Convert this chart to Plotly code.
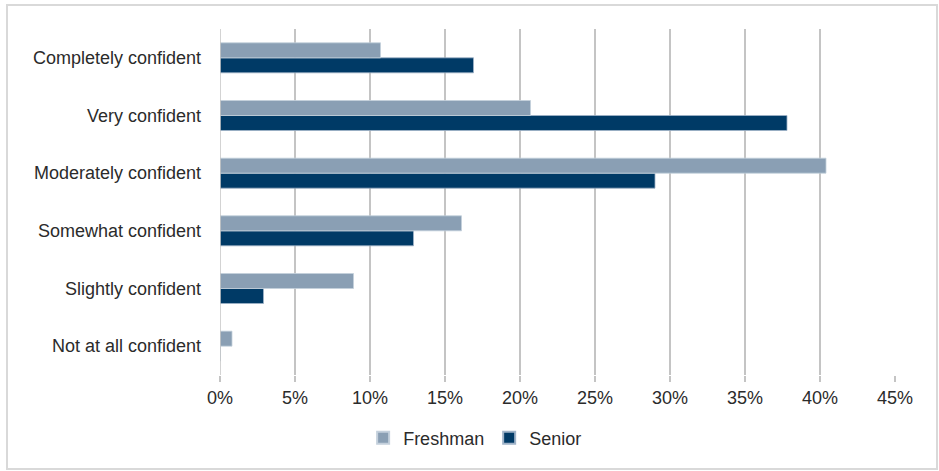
import plotly.graph_objects as go

# Survey response categories (top to bottom) and shares in percent
categories = [
    "Completely confident",
    "Very confident",
    "Moderately confident",
    "Somewhat confident",
    "Slightly confident",
    "Not at all confident",
]
freshman = [10.7, 20.7, 40.4, 16.1, 8.9, 0.8]
senior = [16.9, 37.8, 29.0, 12.9, 2.9, 0.0]
x_ticks = [0, 5, 10, 15, 20, 25, 30, 35, 40, 45]
x_tick_labels = [f"{v}%" for v in x_ticks]

FRESH_COLOR = "#8a9fb4"
SENIOR_COLOR = "#003a66"
TEXT_COLOR = "#2b2b2b"
FONT = "Liberation Sans, Arial, sans-serif"
FONT_SIZE = 18

fig = go.Figure()
# Horizontal grouped bars stack upward from the first trace, so Senior is
# added first to sit below Freshman in every group; legendrank keeps the
# legend in Freshman, Senior order.
fig.add_trace(go.Bar(
    name="Senior", y=categories, x=senior, orientation="h", legendrank=2,
    marker=dict(color=SENIOR_COLOR, line=dict(color="#9fb3c8", width=0.8)),
))
fig.add_trace(go.Bar(
    name="Freshman", y=categories, x=freshman, orientation="h", legendrank=1,
    marker=dict(color=FRESH_COLOR, line=dict(color="#c4d0dc", width=0.8)),
))

fig.update_layout(
    width=939, height=471,
    margin=dict(l=220, r=44, t=29, b=96),
    paper_bgcolor="white", plot_bgcolor="white",
    barmode="group", bargap=0.48, bargroupgap=0,
    font=dict(family=FONT, size=FONT_SIZE, color=TEXT_COLOR),
    legend=dict(
        orientation="h", xref="container", yref="container",
        x=0.506, xanchor="center", y=0.07, yanchor="middle",
        font=dict(size=FONT_SIZE, color=TEXT_COLOR),
        itemwidth=30, itemsizing="constant",
    ),
    xaxis=dict(
        range=[0, 45], tickvals=x_ticks, ticktext=x_tick_labels,
        showgrid=True, gridcolor="#c4c4c4", gridwidth=1.5,
        zeroline=False, showline=False,
        ticks="outside", ticklen=6, tickcolor="#c4c4c4", tickwidth=1.5,
        tickfont=dict(size=FONT_SIZE, color=TEXT_COLOR),
    ),
    yaxis=dict(
        categoryorder="array", categoryarray=categories[::-1],
        autorange=True, showgrid=False, zeroline=False,
        showline=False, ticks="", ticklabelstandoff=18,
        tickfont=dict(size=FONT_SIZE, color=TEXT_COLOR),
    ),
    shapes=[
        # outer frame around the whole chart
        dict(type="rect", xref="paper", yref="paper",
             x0=-213 / 675, x1=(937 - 220) / 675,
             y0=-(469 - 375) / 346, y1=1 + (29 - 5) / 346,
             line=dict(color="#d9d9d9", width=2), layer="below"),
        # vertical axis line at 0%
        dict(type="line", xref="x", yref="paper", x0=0, x1=0, y0=0, y1=1,
             line=dict(color="#c4c4c4", width=1.5)),
    ],
)

fig.write_html("out.html")
